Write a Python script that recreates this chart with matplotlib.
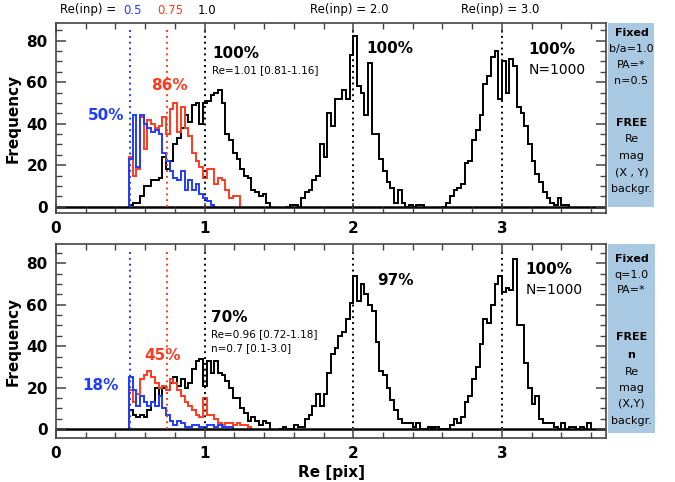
import numpy as np
import matplotlib
matplotlib.use('Agg')
import matplotlib.pyplot as plt
from matplotlib.ticker import MultipleLocator
from matplotlib.patches import Rectangle

# histogram data (bin width 0.025 in Re)
bin_w = 0.025

# top panel: n fixed to 0.5
top_blue_start = 0.49
top_blue = [23, 44, 19, 44, 40, 38, 36, 37, 35, 26, 22, 17, 14, 13, 17, 8, 13, 8, 11, 6, 4, 3, 1]
top_red_start = 0.49
top_red = [24, 15, 18, 43, 28, 42, 40, 38, 39, 43, 35, 47, 50, 36, 48, 38, 34, 26, 22, 19, 14, 18, 18,
           11, 14, 13, 8, 4, 5, 5]
top_k1_start = 0.49
top_k1 = [1, 2, 2, 5, 10, 10, 13, 13, 14, 24, 18, 22, 30, 33, 38, 44, 41, 49, 50, 40, 50, 51, 54, 55,
          56, 50, 35, 32, 26, 23, 18, 15, 14, 8, 7, 5, 6, 2]
top_k2_start = 1.55
top_k2 = [0, 1, 1, 0, 4, 7, 8, 13, 15, 30, 24, 45, 39, 52, 52, 56, 52, 73, 82, 58, 55, 44, 69, 35, 35,
          23, 17, 12, 9, 2, 8, 2, 0, 1, 0, 1, 1]
top_k3_start = 2.6
top_k3 = [0, 2, 5, 8, 9, 11, 21, 22, 32, 37, 44, 59, 63, 72, 75, 52, 70, 55, 71, 68, 48, 45, 39, 30,
          22, 16, 12, 7, 4, 2, 1, 4, 1, 1]

# bottom panel: n free
bot_blue_start = 0.49
bot_blue = [25, 19, 11, 16, 13, 11, 13, 11, 16, 10, 7, 4, 2, 4, 3, 1, 1, 2, 2, 1, 1, 2, 2, 1, 2, 1, 1, 1]
bot_red_start = 0.49
bot_red = [19, 13, 17, 24, 26, 28, 25, 22, 20, 21, 19, 24, 22, 19, 16, 13, 11, 9, 7, 6, 15, 7, 7, 5,
           3, 2, 3, 3, 2, 3, 2, 2, 1]
bot_k1_start = 0.49
bot_k1 = [9, 7, 6, 7, 6, 9, 13, 20, 16, 20, 19, 22, 25, 21, 24, 20, 22, 29, 33, 34, 21, 33, 27, 33,
          27, 26, 23, 20, 15, 15, 10, 8, 4, 6, 4, 2, 4, 3]
bot_k2_start = 1.5
bot_k2 = [0, 1, 0, 0, 2, 1, 1, 5, 7, 11, 17, 11, 17, 27, 36, 39, 45, 47, 53, 61, 74, 62, 70, 65, 60,
          57, 42, 28, 26, 20, 14, 9, 5, 3, 3, 3, 1, 3, 0, 0, 1, 1, 1]
bot_k3_start = 2.5
bot_k3 = [1, 0, 1, 0, 0, 0, 2, 5, 3, 6, 13, 16, 24, 30, 41, 53, 51, 60, 70, 74, 66, 68, 67, 82, 50,
          50, 32, 20, 12, 16, 5, 3, 3, 3, 1, 0, 3, 0, 1, 1, 0, 1, 0, 3]

re_inp = [0.5, 0.75, 1.0, 2.0, 3.0]
re_cols = ['#1f3cff', '#ff3b1f', 'black', 'black', 'black']

BLUE = '#1f3cff'
RED = '#ff3b1f'
BOX = '#a9c9e2'

W, H = 675, 482
fig = plt.figure(figsize=(W / 100, H / 100), dpi=100)


def fx(x):
    return x / W


def fy(y):
    return 1 - y / H


ax1 = fig.add_axes([fx(56), fy(213), fx(606) - fx(56), fy(23) - fy(213)])
ax2 = fig.add_axes([fx(56), fy(438), fx(606) - fx(56), fy(244) - fy(438)])


def draw_hist(ax, start, counts, color):
    counts = np.array(counts, dtype=float)
    edges = start + bin_w * np.arange(len(counts) + 1)
    ax.stairs(counts, edges, color=color, lw=1.4)


def style(ax, ylim):
    ax.set_xlim(0, 3.7)
    ax.set_ylim(*ylim)
    ax.xaxis.set_major_locator(MultipleLocator(1))
    ax.xaxis.set_minor_locator(MultipleLocator(0.2))
    ax.yaxis.set_major_locator(MultipleLocator(20))
    ax.yaxis.set_minor_locator(MultipleLocator(5))
    ax.tick_params(which='both', direction='in', top=True, right=True, color='#444444')
    ax.tick_params(which='major', length=7, width=1.1, labelsize=11, pad=6)
    ax.tick_params(which='minor', length=4, width=1.0)
    for lab in ax.get_xticklabels() + ax.get_yticklabels():
        lab.set_fontweight('bold')
    for sp in ax.spines.values():
        sp.set_color('#444444')
        sp.set_linewidth(1.2)
    ax.axhline(0, color='black', lw=1.8, zorder=1)
    for r, c in zip(re_inp, re_cols):
        ax.vlines(r, 0, 86, colors=c, linestyles=(0, (1, 2)), lw=1.4, zorder=1)
    ax.set_ylabel('Frequency', fontsize=11, fontweight='bold', labelpad=4)


# top panel
draw_hist(ax1, top_k1_start, top_k1, 'black')
draw_hist(ax1, top_k2_start, top_k2, 'black')
draw_hist(ax1, top_k3_start, top_k3, 'black')
draw_hist(ax1, top_red_start, top_red, RED)
draw_hist(ax1, top_blue_start, top_blue, BLUE)
style(ax1, (-3, 88.5))

ax1.text(0.34, 44, '50%', color=BLUE, fontsize=11, fontweight='bold', ha='center', va='center')
ax1.text(0.76, 58.5, '86%', color=RED, fontsize=11, fontweight='bold', ha='center', va='center')
ax1.text(1.05, 74, '100%', fontsize=11, fontweight='bold', va='center')
ax1.text(1.05, 66, 'Re=1.01 [0.81-1.16]', fontsize=7.5, va='center')
ax1.text(2.09, 76, '100%', fontsize=11, fontweight='bold', va='center')
ax1.text(3.18, 75.5, '100%', fontsize=11, fontweight='bold', va='center')
ax1.text(3.18, 66, 'N=1000', fontsize=10, va='center')

# bottom panel
draw_hist(ax2, bot_k1_start, bot_k1, 'black')
draw_hist(ax2, bot_k2_start, bot_k2, 'black')
draw_hist(ax2, bot_k3_start, bot_k3, 'black')
draw_hist(ax2, bot_red_start, bot_red, RED)
draw_hist(ax2, bot_blue_start, bot_blue, BLUE)
style(ax2, (-4.3, 89.3))
ax2.set_xlabel('Re [pix]', fontsize=11, fontweight='bold', labelpad=3)

ax2.text(0.30, 21, '18%', color=BLUE, fontsize=11, fontweight='bold', ha='center', va='center')
ax2.text(0.72, 35.7, '45%', color=RED, fontsize=11, fontweight='bold', ha='center', va='center')
ax2.text(1.04, 54, '70%', fontsize=11, fontweight='bold', va='center')
ax2.text(1.04, 46, 'Re=0.96 [0.72-1.18]', fontsize=7.5, va='center')
ax2.text(1.04, 39, 'n=0.7 [0.1-3.0]', fontsize=7.5, va='center')
ax2.text(2.16, 71.6, '97%', fontsize=11, fontweight='bold', va='center')
ax2.text(3.16, 76.8, '100%', fontsize=11, fontweight='bold', va='center')
ax2.text(3.16, 67, 'N=1000', fontsize=10, va='center')

# header
fig.text(fx(120), fy(10), 'Re(inp) = ', fontsize=8.5, va='center', ha='right')
fig.text(fx(123), fy(10), '0.5', fontsize=8.5, va='center', color=BLUE)
fig.text(fx(157), fy(10), '0.75', fontsize=8.5, va='center', color=RED)
fig.text(fx(198), fy(10), '1.0', fontsize=8.5, va='center')
fig.text(fx(349), fy(10), 'Re(inp) = 2.0', fontsize=8.5, va='center', ha='center')
fig.text(fx(500), fy(10), 'Re(inp) = 3.0', fontsize=8.5, va='center', ha='center')

# side boxes
fig.patches.append(Rectangle((fx(608), fy(207)), fx(654) - fx(608), fy(23) - fy(207),
                             transform=fig.transFigure, facecolor=BOX, edgecolor='none'))
fig.patches.append(Rectangle((fx(608), fy(433)), fx(655) - fx(608), fy(244) - fy(433),
                             transform=fig.transFigure, facecolor=BOX, edgecolor='none'))

box_top = [('Fixed', 33, True), ('b/a=1.0', 49, False), ('PA=*', 65, False), ('n=0.5', 81, False),
           ('FREE', 123, True), ('Re', 139, False), ('mag', 156, False), ('(X , Y)', 172, False),
           ('backgr.', 189, False)]
box_bot = [('Fixed', 259, True), ('q=1.0', 275, False), ('PA=*', 290, False),
           ('FREE', 337, True), ('n', 355, True), ('Re', 372, False), ('mag', 388, False),
           ('(X,Y)', 404, False), ('backgr.', 421, False)]
for txt, y, b in box_top + box_bot:
    fig.text(fx(631.5), fy(y), txt, fontsize=8, ha='center', va='center',
             fontweight='bold' if b else 'normal')

fig.savefig('out.png', dpi=100)
